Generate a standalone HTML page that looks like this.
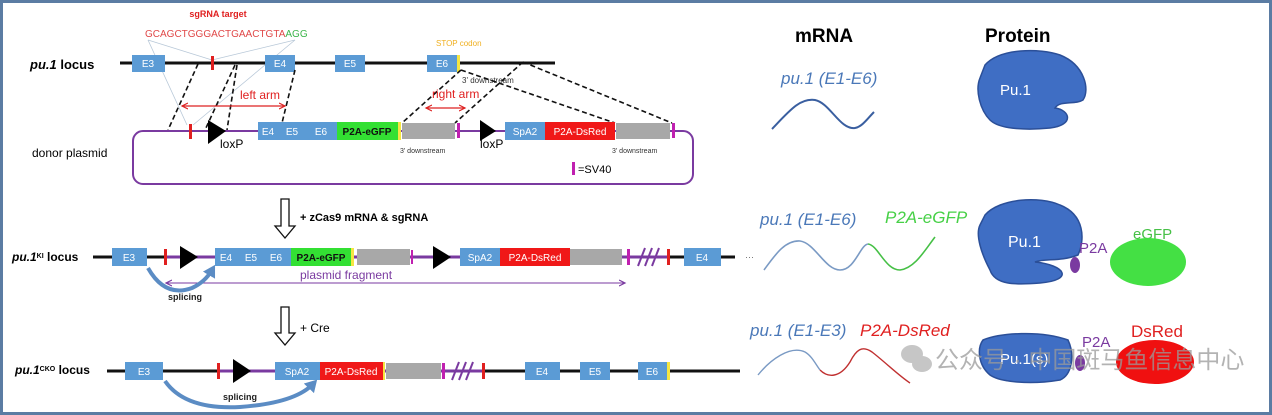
<!DOCTYPE html>
<html><head><meta charset="utf-8"><style>
html,body{margin:0;padding:0;background:#fff}
svg{display:block}
text{font-family:"Liberation Sans","Noto Sans CJK SC",sans-serif}
</style></head><body>
<svg width="1272" height="415" viewBox="0 0 1272 415" xmlns="http://www.w3.org/2000/svg">
<rect x="1.5" y="1.5" width="1269" height="412" fill="#fff" stroke="#5b7ca3" stroke-width="3"/>
<defs>
<marker id="ar" markerUnits="userSpaceOnUse" markerWidth="8" markerHeight="8" refX="6" refY="4" orient="auto-start-reverse"><path d="M0,1 L6,4 L0,7" fill="none" stroke="#d22" stroke-width="1.2"/></marker>
<marker id="ap" markerUnits="userSpaceOnUse" markerWidth="8" markerHeight="8" refX="6" refY="4" orient="auto-start-reverse"><path d="M0,1 L6,4 L0,7" fill="none" stroke="#7a3aa0" stroke-width="1.2"/></marker>
<marker id="ab" markerUnits="userSpaceOnUse" markerWidth="14" markerHeight="14" refX="6" refY="7" orient="auto"><path d="M0,0 L12,7 L0,14 Z" fill="#5b8cc4"/></marker>
</defs>
<g font-size="11">
<!-- Row 1 -->
<text x="218" y="17" fill="#e02020" font-size="9" font-weight="bold" text-anchor="middle">sgRNA target</text>
<text x="145" y="37" font-size="10" fill="#e04848">GCAGCTGGGACTGAACTGTA<tspan fill="#3bb54a">AGG</tspan></text>
<g stroke="#b8c8d8" stroke-width="0.8" fill="none">
<line x1="148" y1="40" x2="212" y2="60"/><line x1="295" y1="40" x2="212" y2="60"/>
<line x1="148" y1="40" x2="187" y2="125"/><line x1="295" y1="40" x2="193" y2="125"/>
</g>
<text x="436" y="46" fill="#f0b020" font-size="8">STOP codon</text>
<text x="30" y="69" font-size="13" font-weight="bold"><tspan font-style="italic">pu.1</tspan> locus</text>
<line x1="120" y1="63" x2="555" y2="63" stroke="#111" stroke-width="3"/>
<g fill="#5b9bd5"><rect x="132" y="55" width="33" height="17"/><rect x="265" y="55" width="30" height="17"/><rect x="335" y="55" width="30" height="17"/><rect x="427" y="55" width="31" height="17"/></g>
<rect x="457" y="55" width="3" height="17" fill="#f5e642"/>
<rect x="211" y="56" width="3" height="14" fill="#e02020"/>
<g fill="#fff" font-size="10" text-anchor="middle"><text x="148" y="67">E3</text><text x="280" y="67">E4</text><text x="350" y="67">E5</text><text x="442" y="67">E6</text></g>
<text x="462" y="83" font-size="8" fill="#333">3' downstream</text>
<g stroke="#111" stroke-width="1.6" stroke-dasharray="5,3" fill="none">
<line x1="198" y1="64" x2="168" y2="130"/><line x1="235" y1="65" x2="205" y2="130"/><line x1="237" y1="65" x2="227" y2="130"/>
<line x1="295" y1="70" x2="282" y2="123"/>
<line x1="461" y1="70" x2="402" y2="123"/><line x1="523" y1="62" x2="455" y2="123"/>
<line x1="461" y1="70" x2="615" y2="123"/><line x1="523" y1="62" x2="672" y2="123"/>
</g>
<text x="240" y="99" fill="#e02020" font-size="12">left arm</text>
<line x1="182" y1="106" x2="285" y2="106" stroke="#d22" stroke-width="1.3" marker-start="url(#ar)" marker-end="url(#ar)"/>
<text x="432" y="98" fill="#e02020" font-size="12">right arm</text>
<line x1="426" y1="108" x2="465" y2="108" stroke="#d22" stroke-width="1.3" marker-start="url(#ar)" marker-end="url(#ar)"/>
<rect x="133" y="131" width="560" height="53" rx="10" fill="none" stroke="#7a3aa0" stroke-width="2"/>
<g fill="#5b9bd5"><rect x="258" y="122" width="79" height="18"/><rect x="505" y="122" width="40" height="18"/></g>
<rect x="337" y="122" width="61" height="18" fill="#33e033"/><rect x="398" y="122" width="3" height="18" fill="#f5e642"/>
<rect x="402" y="123" width="53" height="16" fill="#a8a8a8"/>
<rect x="545" y="122" width="70" height="18" fill="#f01818"/>
<rect x="616" y="123" width="54" height="16" fill="#a8a8a8"/>
<rect x="189" y="124" width="3" height="15" fill="#e02020"/>
<rect x="457" y="123" width="3" height="15" fill="#c020b0"/><rect x="672" y="123" width="3" height="15" fill="#c020b0"/>
<path d="M208,120 L226,131 L208,144 Z" fill="#000"/><path d="M480,120 L496,131 L480,141 Z" fill="#000"/>
<g fill="#fff" font-size="10" text-anchor="middle"><text x="268" y="135">E4</text><text x="292" y="135">E5</text><text x="321" y="135">E6</text><text x="525" y="135">SpA2</text><text x="580" y="135">P2A-DsRed</text></g>
<text x="367" y="135" text-anchor="middle" font-size="10" font-weight="bold" fill="#111">P2A-eGFP</text>
<text x="220" y="148" font-size="12">loxP</text><text x="480" y="148" font-size="12">loxP</text>
<text x="400" y="153" font-size="7" fill="#333">3' downstream</text><text x="612" y="153" font-size="7" fill="#333">3' downstream</text>
<text x="32" y="157" font-size="12">donor plasmid</text>
<rect x="572" y="162" width="3" height="13" fill="#c020b0"/><text x="578" y="173" font-size="11">=SV40</text>
<!-- arrow 1 -->
<path d="M281,199 L289,199 L289,226 L295,226 L285,238 L275,226 L281,226 Z" fill="#fff" stroke="#111" stroke-width="1.3"/>
<text x="300" y="221" font-size="11" font-weight="bold">+ zCas9 mRNA &amp; sgRNA</text>
<!-- Row KI -->
<text x="12" y="261" font-size="12" font-weight="bold"><tspan font-style="italic">pu.1</tspan><tspan font-size="7" baseline-shift="super">KI</tspan> locus</text>
<line x1="93" y1="257" x2="735" y2="257" stroke="#111" stroke-width="3"/>
<line x1="165" y1="257" x2="668" y2="257" stroke="#7a3aa0" stroke-width="3"/>
<g fill="#5b9bd5"><rect x="112" y="248" width="35" height="18"/><rect x="215" y="248" width="76" height="18"/><rect x="460" y="248" width="40" height="18"/><rect x="684" y="248" width="37" height="18"/></g>
<rect x="291" y="248" width="60" height="18" fill="#33e033"/><rect x="351" y="248" width="3" height="18" fill="#f5e642"/>
<rect x="357" y="249" width="53" height="16" fill="#a8a8a8"/>
<rect x="500" y="248" width="70" height="18" fill="#f01818"/><rect x="570" y="249" width="52" height="16" fill="#a8a8a8"/>
<rect x="164" y="249" width="3" height="16" fill="#e02020"/><rect x="667" y="249" width="3" height="16" fill="#e02020"/>
<rect x="411" y="250" width="2" height="14" fill="#c020b0"/><rect x="627" y="249" width="3" height="16" fill="#c020b0"/>
<g stroke="#7a3aa0" stroke-width="2"><line x1="638" y1="266" x2="645" y2="248"/><line x1="645" y1="266" x2="652" y2="248"/><line x1="652" y1="266" x2="659" y2="248"/></g>
<path d="M180,246 L198,257 L180,269 Z" fill="#000"/><path d="M433,246 L451,257 L433,269 Z" fill="#000"/>
<g fill="#fff" font-size="10" text-anchor="middle"><text x="129" y="261">E3</text><text x="226" y="261">E4</text><text x="251" y="261">E5</text><text x="276" y="261">E6</text><text x="480" y="261">SpA2</text><text x="535" y="261">P2A-DsRed</text><text x="702" y="261">E4</text></g>
<text x="321" y="261" text-anchor="middle" font-size="10" font-weight="bold" fill="#111">P2A-eGFP</text>
<text x="745" y="260" font-size="9" fill="#666">···</text>
<text x="300" y="279" font-size="12" fill="#7a3aa0">plasmid fragment</text>
<line x1="166" y1="283" x2="625" y2="283" stroke="#7a3aa0" stroke-width="1" marker-start="url(#ap)" marker-end="url(#ap)"/>
<path d="M148,268 Q165,298 192,288 Q205,282 212,270" fill="none" stroke="#5b8cc4" stroke-width="4" marker-end="url(#ab)"/>
<text x="168" y="300" font-size="9" font-weight="bold" fill="#222">splicing</text>
<!-- arrow 2 -->
<path d="M281,307 L289,307 L289,333 L295,333 L285,345 L275,333 L281,333 Z" fill="#fff" stroke="#111" stroke-width="1.3"/>
<text x="300" y="332" font-size="12">+ Cre</text>
<!-- Row CKO -->
<text x="15" y="374" font-size="12" font-weight="bold"><tspan font-style="italic">pu.1</tspan><tspan font-size="7" baseline-shift="super">CKO</tspan> locus</text>
<line x1="107" y1="371" x2="740" y2="371" stroke="#111" stroke-width="3"/>
<line x1="220" y1="371" x2="483" y2="371" stroke="#7a3aa0" stroke-width="3"/>
<g fill="#5b9bd5"><rect x="125" y="362" width="38" height="18"/><rect x="275" y="362" width="45" height="18"/><rect x="525" y="362" width="35" height="18"/><rect x="580" y="362" width="30" height="18"/><rect x="638" y="362" width="29" height="18"/></g>
<rect x="667" y="362" width="3" height="18" fill="#f5e642"/>
<rect x="320" y="362" width="63" height="18" fill="#f01818"/><rect x="383" y="362" width="2" height="18" fill="#f5e642"/>
<rect x="386" y="363" width="55" height="16" fill="#a8a8a8"/>
<rect x="442" y="363" width="3" height="16" fill="#c020b0"/>
<g stroke="#7a3aa0" stroke-width="2"><line x1="452" y1="380" x2="459" y2="362"/><line x1="459" y1="380" x2="466" y2="362"/><line x1="466" y1="380" x2="473" y2="362"/></g>
<rect x="217" y="363" width="3" height="16" fill="#e02020"/><rect x="482" y="363" width="3" height="16" fill="#e02020"/>
<path d="M233,359 L251,371 L233,383 Z" fill="#000"/>
<g fill="#fff" font-size="10" text-anchor="middle"><text x="144" y="375">E3</text><text x="297" y="375">SpA2</text><text x="351" y="375">P2A-DsRed</text><text x="542" y="375">E4</text><text x="595" y="375">E5</text><text x="652" y="375">E6</text></g>
<path d="M165,381 Q185,410 240,407 Q295,403 313,384" fill="none" stroke="#5b8cc4" stroke-width="4" marker-end="url(#ab)"/>
<text x="223" y="400" font-size="9" font-weight="bold" fill="#222">splicing</text>
</g>
<!-- Right side -->
<text x="795" y="42" font-size="19" font-weight="bold">mRNA</text>
<text x="985" y="42" font-size="19" font-weight="bold">Protein</text>
<text x="781" y="84" font-size="17" font-style="italic" fill="#4a78b8">pu.1 (E1-E6)</text>
<path d="M772,129 C790,110 800,98 815,100 C830,103 840,130 855,128 C862,127 868,118 874,112" fill="none" stroke="#3a5fa0" stroke-width="2"/>
<path d="M985,65 C1000,48 1040,48 1060,55 C1085,65 1090,90 1083,100 C1075,105 1060,100 1055,108 C1070,110 1075,125 1050,128 C1030,130 1000,130 990,120 C980,110 975,90 980,78 Z" fill="#3f6ec4" stroke="#2b4f98" stroke-width="1.5"/>
<text x="1000" y="95" font-size="15" fill="#fff">Pu.1</text>
<text x="760" y="225" font-size="17" font-style="italic" fill="#4a78b8">pu.1 (E1-E6)</text>
<text x="885" y="223" font-size="17" font-style="italic" fill="#46d046">P2A-eGFP</text>
<path d="M764,270 C775,255 785,240 800,241 C815,243 825,270 840,270 C855,270 860,245 868,244" fill="none" stroke="#7a9ac4" stroke-width="1.6"/>
<path d="M868,244 C878,245 885,270 900,270 C915,268 925,250 935,237" fill="none" stroke="#46c046" stroke-width="1.6"/>
<path d="M985,215 C1000,198 1040,196 1060,205 C1085,215 1085,240 1078,255 C1060,262 1045,258 1035,262 C1065,265 1075,280 1040,283 C1015,285 995,285 990,270 C982,255 975,235 980,225 Z" fill="#3f6ec4" stroke="#2b4f98" stroke-width="1.5"/>
<text x="1008" y="247" font-size="16" fill="#fff">Pu.1</text>
<ellipse cx="1075" cy="265" rx="5" ry="8" fill="#7a3aa0"/>
<text x="1079" y="253" font-size="15" fill="#7a3aa0">P2A</text>
<text x="1133" y="239" font-size="15" fill="#46c046">eGFP</text>
<ellipse cx="1148" cy="262" rx="38" ry="24" fill="#44e044"/>
<text x="750" y="336" font-size="17" font-style="italic" fill="#4a78b8">pu.1 (E1-E3)</text>
<text x="860" y="336" font-size="17" font-style="italic" fill="#e02020">P2A-DsRed</text>
<path d="M758,375 C770,360 790,345 805,352 C812,356 816,365 820,370" fill="none" stroke="#7a9ac4" stroke-width="1.4"/>
<path d="M820,370 C828,378 840,378 850,362 C856,350 862,345 872,352 C885,362 898,375 910,383" fill="none" stroke="#c03030" stroke-width="1.4"/>
<path d="M983,340 C1000,333 1040,330 1068,340 C1075,355 1072,375 1060,380 C1030,385 1000,382 990,375 C978,365 977,348 983,340 Z" fill="#3f6ec4" stroke="#2b4f98" stroke-width="1.5"/>
<text x="1000" y="364" font-size="15" fill="#fff">Pu.1(s)</text>
<ellipse cx="1080" cy="363" rx="5" ry="8" fill="#7a3aa0"/>
<text x="1082" y="347" font-size="15" fill="#7a3aa0">P2A</text>
<text x="1131" y="337" font-size="17" fill="#e02020">DsRed</text>
<ellipse cx="1155" cy="362" rx="39" ry="22" fill="#f01010"/>
<!-- watermark -->
<g fill="#bdbdbd" opacity="0.85">
<ellipse cx="912" cy="354" rx="11" ry="9"/><ellipse cx="922" cy="364" rx="10" ry="8"/>
</g>
<text x="935" y="368" font-size="24" fill="#9a9a9a" opacity="0.75">公众号 · 中国斑马鱼信息中心</text>
</svg>
</body></html>
